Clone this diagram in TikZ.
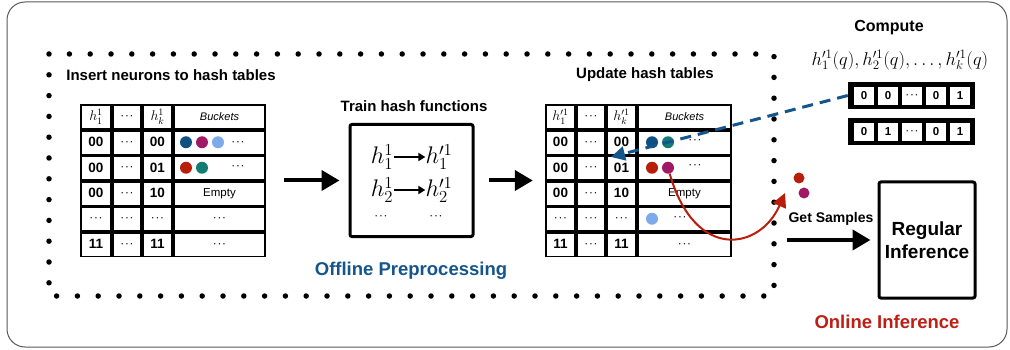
\documentclass[tikz,border=0pt]{standalone}
\usepackage{fix-cm}
\usepackage{fontspec}
\setmainfont{Liberation Sans}
\usetikzlibrary{arrows.meta,positioning,calc}

\definecolor{cdblue}{RGB}{14,80,130}
\definecolor{cpurple}{RGB}{160,25,100}
\definecolor{clight}{RGB}{125,170,235}
\definecolor{cred}{RGB}{185,30,10}
\definecolor{cteal}{RGB}{20,125,115}
\definecolor{qblue}{RGB}{20,85,140}
\definecolor{ored}{RGB}{190,30,20}

\newcommand{\dts}{{\fontsize{9}{10}\selectfont$\boldsymbol{\cdots}$}}
\providecommand{\boldsymbol}[1]{\mbox{\boldmath$#1$}}

\tikzset{
  title/.style={font=\bfseries\fontsize{15}{18}\selectfont},
  tframe/.style={fill=black, inner sep=0pt},
  tcell/.style={fill=white, draw=black, line width=0.4pt, inner sep=0pt,
    minimum height=23, font=\bfseries\fontsize{13.5}{16}\selectfont},
  bdot/.style={circle, inner sep=0pt, minimum size=12},
  fbox/.style={draw, line width=3, rounded corners=2, inner sep=0pt},
  bigarrow/.style={line width=4, -{Triangle[length=18pt,width=20pt]}},
  smallarrow/.style={line width=2, -{Triangle[length=7pt,width=8pt]}},
  dotline/.style={line width=5.5, line cap=round, dash pattern=on 0pt off 20.8pt}
}

\begin{document}
\begin{tikzpicture}[x=1pt,y=-1pt]
\useasboundingbox (0,0) rectangle (1010,350);

% frames
\draw[black!65, rounded corners=18, line width=1] (7,2) rectangle (1007,347);
\draw[dotline] (49,54) rectangle (774,296);

% titles
\node[title] (t-ins) at (171,75) {Insert neurons to hash tables};
\node[title] (t-train) at (414,106) {Train hash functions};
\node[title] (t-upd) at (645,75) {Update hash tables};
\node[title, font=\bfseries\fontsize{16}{18}\selectfont] (t-comp) at (889,28) {Compute};
\node (q-form) at (900,60) {\fontsize{18.5}{20}\selectfont$h_1^{\prime 1}(q), h_2^{\prime 1}(q), \ldots, h_k^{\prime 1}(q)$};

% left hash table
\node[tframe, minimum width=186, minimum height=153] (ltab) at (173,180.5) {};
\foreach \r/\y/\ca/\cb/\cc/\cd in {
  0/116.75/{\fontsize{14}{16}\selectfont$h_1^1$}/{\dts}/{\fontsize{14}{16}\selectfont$h_k^1$}/{\mdseries\itshape\fontsize{11}{13}\selectfont Buckets},
  1/142.25/00/{\dts}/00/{},
  2/167.75/00/{\dts}/01/{},
  3/193.25/00/{\dts}/10/{\mdseries\fontsize{11.5}{13}\selectfont Empty},
  4/218.75/{\dts}/{\dts}/{\dts}/{\dts},
  5/244.25/11/{\dts}/11/{\dts}}
{
  \node[tcell, minimum width=29] (l-\r-1) at (96,\y) {\ca};
  \node[tcell, minimum width=27] (l-\r-2) at (127,\y) {\cb};
  \node[tcell, minimum width=28] (l-\r-3) at (157.5,\y) {\cc};
  \node[tcell, minimum width=90] (l-\r-4) at (219.5,\y) {\cd};
}
\node[bdot, fill=cdblue] (l-1-a) at (186,142.25) {};
\node[bdot, fill=cpurple] (l-1-b) at (202,142.25) {};
\node[bdot, fill=clight] (l-1-c) at (218,142.25) {};
\node (l-1-m) at (238,142.25) {\dts};
\node[bdot, fill=cred] (l-2-a) at (186,167.75) {};
\node[bdot, fill=cteal] (l-2-b) at (202,167.75) {};
\node (l-2-m) at (238,166) {\dts};

% trained hash functions
\node[fbox, minimum width=123, minimum height=112] (hbox) at (411.5,180.5) {};
\node[inner sep=0pt] (f-1) at (382,157) {\fontsize{24}{26}\selectfont$h_1^1$};
\node[inner sep=0pt] (g-1) at (439,157) {\fontsize{24}{26}\selectfont$h_1^{\prime 1}$};
\node[inner sep=0pt] (f-2) at (382,190) {\fontsize{24}{26}\selectfont$h_2^1$};
\node[inner sep=0pt] (g-2) at (439,190) {\fontsize{24}{26}\selectfont$h_2^{\prime 1}$};
\node (f-3) at (381,216) {\dts};
\node (g-3) at (436,216) {\dts};
\draw[smallarrow, shorten <=1] (f-1) -- (g-1);
\draw[smallarrow, shorten <=1] (f-2) -- (g-2);

% right hash table
\node[tframe, minimum width=187, minimum height=153] (rtab) at (638.5,180.5) {};
\foreach \r/\y/\ca/\cb/\cc/\cd in {
  0/116.75/{\fontsize{14}{16}\selectfont$h_1^{\prime 1}$}/{\dts}/{\fontsize{14}{16}\selectfont$h_k^{\prime 1}$}/{\mdseries\itshape\fontsize{11}{13}\selectfont Buckets},
  1/142.25/00/{\dts}/00/{},
  2/167.75/00/{\dts}/01/{},
  3/193.25/00/{\dts}/10/{\mdseries\fontsize{11.5}{13}\selectfont Empty},
  4/218.75/{\dts}/{\dts}/{\dts}/{},
  5/244.25/11/{\dts}/11/{\dts}}
{
  \node[tcell, minimum width=28] (r-\r-1) at (560.5,\y) {\ca};
  \node[tcell, minimum width=27] (r-\r-2) at (591,\y) {\cb};
  \node[tcell, minimum width=28] (r-\r-3) at (621.5,\y) {\cc};
  \node[tcell, minimum width=92] (r-\r-4) at (684.5,\y) {\cd};
}
\node[bdot, fill=cdblue] (r-1-a) at (652,142.25) {};
\node[bdot, fill=cteal] (r-1-b) at (668,142.25) {};
\node (r-1-m) at (695,140) {\dts};
\node[bdot, fill=cred] (r-2-a) at (652,167.75) {};
\node[bdot, fill=cpurple] (r-2-b) at (668,167.75) {};
\node (r-2-m) at (695,165) {\dts};
\node[bdot, fill=clight] (r-4-a) at (652,218.75) {};
\node (r-4-m) at (680,217) {\dts};

% hash codes of the query
\foreach \k/\y/\bb in {1/95.5/0, 2/131.5/1} {
  \node[tframe, minimum width=127, minimum height=27] (bits\k) at (911.5,\y) {};
  \foreach \i/\t in {1/0, 2/\bb, 3/{\dts}, 4/0, 5/1}
    \node[tcell, minimum width=21, minimum height=19,
      font=\bfseries\fontsize{11.5}{13}\selectfont] (b\k-\i) at (840+24*\i,\y) {\t};
}

% offline arrows
\draw[bigarrow, shorten <=18, shorten >=9] (ltab.east) -- (hbox.west);
\draw[bigarrow, shorten <=14, shorten >=12] (hbox.east) -- (rtab.west);

% query lookup
\coordinate (qend) at (611,157);
\draw[qblue, line width=3, dash pattern=on 11pt off 7pt,
  -{Triangle[length=14pt,width=14pt]}] (bits1.west) -- (qend);

% sampling
\node[bdot, fill=cred, minimum size=11] (s-red) at (799,178) {};
\node[bdot, fill=cpurple, minimum size=11] (s-pur) at (804,193) {};
\coordinate (sampend) at (785,193);
\draw[cred, line width=2, -{Triangle[length=14pt,width=14pt]}]
  (r-2-b) .. controls (695,262) and (760,250) .. (sampend);

% online part
\node[fbox, minimum width=96, minimum height=116, align=center,
  font=\bfseries\fontsize{19}{23}\selectfont] (infer) at (927,240) {Regular\\Inference};
\node[font=\bfseries\fontsize{14}{16}\selectfont] (gs) at (831,219) {Get Samples};
\draw[bigarrow, shorten <=2, shorten >=7] (gs.west |- infer) -- (infer.west);

\node[text=qblue, font=\bfseries\fontsize{18.5}{22}\selectfont] (offl) at (411,271) {Offline Preprocessing};
\node[text=ored, font=\bfseries\fontsize{18.5}{22}\selectfont] (onl) at (887,322) {Online Inference};
\end{tikzpicture}
\end{document}
